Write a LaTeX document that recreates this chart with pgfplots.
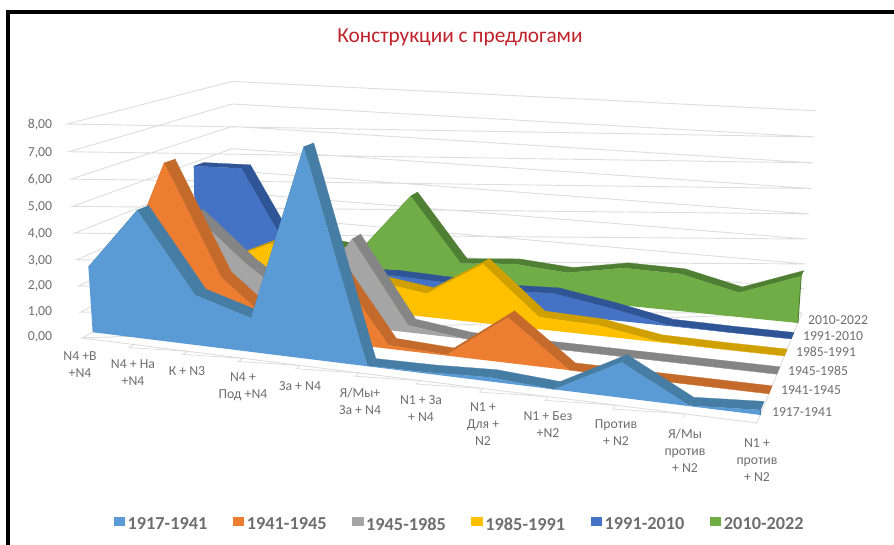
\documentclass[border=0pt]{standalone}
\usepackage{fontspec}
\setmainfont{Carlito}
\usepackage{pgfplots}
\usepackage{pgfplotstable}
\pgfplotsset{compat=1.18}
\definecolor{cA}{HTML}{5B9BD5}\definecolor{dA}{HTML}{467DA5}
\definecolor{cB}{HTML}{ED7D31}\definecolor{dB}{HTML}{C46A2B}
\definecolor{cC}{HTML}{A5A5A5}\definecolor{dC}{HTML}{858585}
\definecolor{cD}{HTML}{FFC000}\definecolor{dD}{HTML}{CFA000}
\definecolor{cE}{HTML}{4472C4}\definecolor{dE}{HTML}{2F5597}
\definecolor{cF}{HTML}{70AD47}\definecolor{dF}{HTML}{4E7F33}
\definecolor{lbl}{HTML}{6E6E6E}
\definecolor{ttl}{HTML}{C0222B}

% values per category (k) and period
\pgfplotstableread{
k  a     b     c     d     e     f
0  2.54  1.60  2.00  1.00  4.85  1.20
1  4.87  6.24  3.85  1.37  4.90  1.30
2  1.91  2.04  2.05  2.35  1.40  1.49
3  1.28  0.33  0.60  2.50  0.80  1.25
4  7.60  3.10  3.42  1.26  0.92  3.80
5  0.02  0.14  0.28  0.96  0.85  1.10
6  0.05  0.03  0.00  2.35  0.75  1.30
7  0.15  1.67  0.00  0.48  0.84  1.14
8  0.00  0.00  0.00  0.41  0.47  1.55
9  1.22  0.00  0.00  0.03  0.03  1.52
10 0.02  0.00  0.00  0.00  0.00  0.99
11 0.17  0.00  0.00  0.00  0.00  1.87
}\data

% same rows out and back, s=0 going right and s=1 coming back
\pgfplotstablesort[sort key=k,sort cmp={float >}]{\rev}{\data}
\pgfplotstablecreatecol[expr={1}]{s}{\rev}
\pgfplotstablecopy{\data}\to\front
\pgfplotstablecreatecol[expr={0}]{s}{\front}
\pgfplotstablevertcat{\loopdata}{\front}
\pgfplotstablevertcat{\loopdata}{\rev}

% wall and floor lines: category, depth, value
\pgfplotstableread{
k  w  v
0  0  0
11 0  0
11 1  0

0  0  0
0  1  0
11 1  0

0  0  1
0  1  1
11 1  1

0  0  2
0  1  2
11 1  2

0  0  3
0  1  3
11 1  3

0  0  4
0  1  4
11 1  4

0  0  5
0  1  5
11 1  5

0  0  6
0  1  6
11 1  6

0  0  7
0  1  7
11 1  7

0  0  8
0  1  8
11 1  8
}\grid

\pgfplotstableread{
k  w
1  0
1  -0.03

2  0
2  -0.03

3  0
3  -0.03

4  0
4  -0.03

5  0
5  -0.03

6  0
6  -0.03

7  0
7  -0.03

8  0
8  -0.03

9  0
9  -0.03

10 0
10 -0.03
}\cticks

% perspective of the 3D chart: category k, depth w (0..1), value z
\pgfplotsset{
  /pgf/declare function={
    projd(\k,\w,\z)=1-0.1633*\k/11+0.1971*\w-0.04*\z/8;
    projx(\k,\w,\z)=(82+551.4*\k/11+195.7*\w-17.68*\z/8+8.4*\w*(1-\k/11)*\z/8)/projd(\k,\w,\z);
    projy(\k,\w,\z)=(338+15.93*\k/11-30.35*\w-218.96*\z/8+5.5*\w*\z/8)/projd(\k,\w,\z);
  }
}

% one ribbon: column, front depth, fill, top colour
% the top is one quad per segment, a single outline would leave holes at the peaks
\newcommand{\ribbon}[4]{
  \pgfmathsetmacro\wb{#2+0.066}
  \pgfplotsinvokeforeach{0,...,10}{
    \pgfmathtruncatemacro\nxt{##1+1}
    \pgfplotstablegetelem{##1}{#1}\of{\data}\let\vi\pgfplotsretval
    \pgfplotstablegetelem{\nxt}{#1}\of{\data}\let\vj\pgfplotsretval
    \pgfmathsetmacro\xa{projx(##1,#2,\vi)}\pgfmathsetmacro\ya{projy(##1,#2,\vi)}
    \pgfmathsetmacro\xb{projx(\nxt,#2,\vj)}\pgfmathsetmacro\yb{projy(\nxt,#2,\vj)}
    \pgfmathsetmacro\xc{projx(\nxt,\wb,\vj)}\pgfmathsetmacro\yc{projy(\nxt,\wb,\vj)}
    \pgfmathsetmacro\xd{projx(##1,\wb,\vi)}\pgfmathsetmacro\yd{projy(##1,\wb,\vi)}
    \edef\doquad{\noexpand\addplot[draw=#4,line width=0.2pt,fill=#4,forget plot] coordinates {(\xa,\ya) (\xb,\yb) (\xc,\yc) (\xd,\yd)};}
    \doquad
  }
  \addplot[draw=none,fill=#3,forget plot] table[
    x expr={projx(\thisrow{k},#2,(1-\thisrow{s})*\thisrow{#1})},
    y expr={projy(\thisrow{k},#2,(1-\thisrow{s})*\thisrow{#1})}] {\loopdata};
  \addplot[draw=#4,line width=0.7pt,forget plot,restrict expr to domain={\thisrow{k}}{11:11}] table[
    x expr={projx(\thisrow{k},#2,(1-\thisrow{s})*\thisrow{#1})},
    y expr={projy(\thisrow{k},#2,(1-\thisrow{s})*\thisrow{#1})}] {\loopdata};
}

\begin{document}
\begin{tikzpicture}
\useasboundingbox (0,0) rectangle (670.5pt,408.75pt);
\begin{axis}[
  at={(0,0)},anchor=south west,
  scale only axis,width=670.5pt,height=408.75pt,
  xmin=0,xmax=894,ymin=0,ymax=545,y dir=reverse,
  hide axis,clip=false,
  legend style={at={(axis cs:460,525)},anchor=center,draw=none,fill=none,
    legend columns=6,font=\fontsize{13.7}{15}\selectfont\bfseries,text=lbl,
    /tikz/every even column/.style={column sep=17.2pt}},
  legend image code/.code={\fill[#1,draw=none] (0pt,-0.05em) rectangle (8.5pt,0.62em);},
]
\addplot[draw=black!13,line width=0.7pt,forget plot] table[x expr={projx(\thisrow{k},\thisrow{w},\thisrow{v})},y expr={projy(\thisrow{k},\thisrow{w},\thisrow{v})}] {\grid};
\addplot[draw=black!13,line width=0.6pt,forget plot] table[x expr={projx(\thisrow{k},\thisrow{w},0)},y expr={projy(\thisrow{k},\thisrow{w},0)}] {\cticks};

\ribbon{f}{0.890}{cF}{dF}
\ribbon{e}{0.724}{cE}{dE}
\ribbon{d}{0.558}{cD}{dD}
\ribbon{c}{0.392}{cC}{dC}
\ribbon{b}{0.226}{cB}{dB}
\ribbon{a}{0.060}{cA}{dA}

\addlegendimage{fill=cA}\addlegendentry{1917-1941}
\addlegendimage{fill=cB}\addlegendentry{1941-1945}
\addlegendimage{fill=cC}\addlegendentry{1945-1985}
\addlegendimage{fill=cD}\addlegendentry{1985-1991}
\addlegendimage{fill=cE}\addlegendentry{1991-2010}
\addlegendimage{fill=cF}\addlegendentry{2010-2022}

% picture frame
\draw[black,line width=3.2pt] (axis cs:8,545) -- (axis cs:8,12) -- (axis cs:894,12);

\node[text=ttl,font=\fontsize{16}{18}\selectfont] at (axis cs:460,37) {Конструкции с предлогами};

\tikzset{cat/.style={text=lbl,align=center,inner sep=0pt,font=\fontsize{10.3}{12.8}\selectfont}}
% value axis labels
\node[cat] at (axis cs:40,125) {8,00};
\node[cat] at (axis cs:40,153) {7,00};
\node[cat] at (axis cs:40,180) {6,00};
\node[cat] at (axis cs:40,207) {5,00};
\node[cat] at (axis cs:40,234) {4,00};
\node[cat] at (axis cs:40,261) {3,00};
\node[cat] at (axis cs:40,286) {2,00};
\node[cat] at (axis cs:40,312) {1,00};
\node[cat] at (axis cs:40,337) {0,00};

% category labels
\node[cat] at (axis cs:80,365) {N4 +В\\+N4};
\node[cat] at (axis cs:133,373) {N4 + На\\+N4};
\node[cat] at (axis cs:187,371) {К + N3};
\node[cat] at (axis cs:243,387) {N4 +\\Под +N4};
\node[cat] at (axis cs:300,386) {За + N4};
\node[cat] at (axis cs:360,401) {Я/Мы+\\За + N4};
\node[cat] at (axis cs:421,409) {N1 + За\\+ N4};
\node[cat] at (axis cs:483,424) {N1 +\\Для +\\N2};
\node[cat] at (axis cs:548,425) {N1 + Без\\+N2};
\node[cat] at (axis cs:616,433) {Против\\+ N2};
\node[cat] at (axis cs:685,451) {Я/Мы\\против\\+ N2};
\node[cat] at (axis cs:757,460) {N1 +\\против\\+ N2};

% period labels
\node[cat] at (axis cs:838,320) {2010-2022};
\node[cat] at (axis cs:833,336) {1991-2010};
\node[cat] at (axis cs:826,352) {1985-1991};
\node[cat] at (axis cs:818,371) {1945-1985};
\node[cat] at (axis cs:811,390) {1941-1945};
\node[cat] at (axis cs:802,412) {1917-1941};
\end{axis}
\end{tikzpicture}
\end{document}
